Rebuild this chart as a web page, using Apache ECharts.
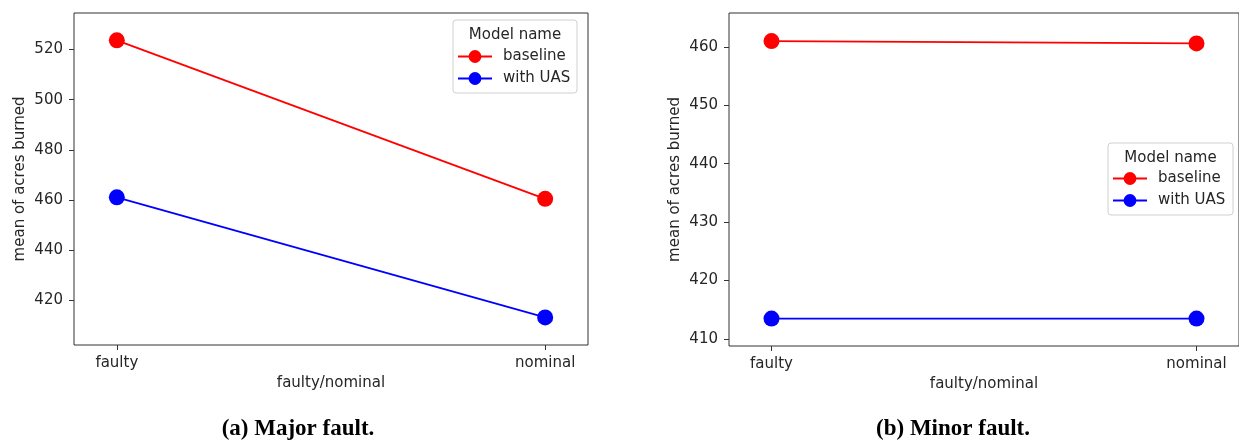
<!DOCTYPE html>
<html>
<head>
<meta charset="utf-8">
<script src="https://cdn.jsdelivr.net/npm/echarts@6/dist/echarts.min.js"></script>
<style>
html,body{margin:0;padding:0;background:#fff;}
#chart{width:1239px;height:442px;}
</style>
</head>
<body>
<div id="chart"></div>
<script>
// ---- data ----
var categories = ['faulty', 'nominal'];
var seriesNames = ['baseline', 'with UAS'];
var majorBaseline = [523.6, 460.5];
var majorUAS = [461.1, 413.3];
var minorBaseline = [461.0, 460.6];
var minorUAS = [413.5, 413.5];
var majorTicks = [420, 440, 460, 480, 500, 520];
var minorTicks = [410, 420, 430, 440, 450, 460];
var captions = ['(a) Major fault.', '(b) Minor fault.'];
var legendTitle = 'Model name';
var xName = 'faulty/nominal';
var yName = 'mean of acres burned';

var colors = {'baseline': '#ff0000', 'with UAS': '#0000ff'};
var FONT = 'DejaVu Sans';
var FS = 15;
var TXT = '#262626';

function pts(arr) { return arr.map(function (v, i) { return [i, v]; }); }

function xAxis(gridIndex) {
  return {
    type: 'value', gridIndex: gridIndex, min: -0.1, max: 1.1,
    name: xName, nameLocation: 'middle', nameGap: 31,
    nameTextStyle: {fontFamily: FONT, fontSize: FS, color: TXT},
    axisLine: {show: false, onZero: false},
    splitLine: {show: false},
    axisTick: {show: true, inside: false, length: 5, lineStyle: {color: '#333', width: 1}, customValues: [0, 1]},
    axisLabel: {show: true, margin: 11, fontFamily: FONT, fontSize: FS, color: TXT,
      customValues: [0, 1], formatter: function (v) { return categories[Math.round(v)]; }}
  };
}
function yAxis(gridIndex, min, max, ticks) {
  return {
    type: 'value', gridIndex: gridIndex, min: min, max: max,
    name: yName, nameLocation: 'middle', nameGap: 46,
    nameTextStyle: {fontFamily: FONT, fontSize: FS, color: TXT},
    axisLine: {show: false, onZero: false},
    splitLine: {show: false},
    axisTick: {show: true, inside: false, length: 5, lineStyle: {color: '#333', width: 1}, customValues: ticks},
    axisLabel: {show: true, margin: 11, fontFamily: FONT, fontSize: FS, color: TXT, customValues: ticks}
  };
}
function line(name, data, idx) {
  return {
    type: 'line', name: name, xAxisIndex: idx, yAxisIndex: idx,
    data: pts(data), symbol: 'circle', symbolSize: 16,
    lineStyle: {color: colors[name], width: 1.8},
    itemStyle: {color: colors[name]},
    animation: false, z: 3
  };
}
function legend(left, top) {
  return {
    left: left, top: top, orient: 'vertical', data: seriesNames,
    itemWidth: 34, itemHeight: 16, itemGap: 7,
    padding: 0,
    textStyle: {fontFamily: FONT, fontSize: FS, color: TXT, padding: [0, 0, 0, 6]}
  };
}
function legendBox(x, y, w, h) {
  return [{
    type: 'rect', x: x, y: y, z: 0,
    shape: {x: 0, y: 0, width: w, height: h, r: 3},
    style: {fill: 'rgba(255,255,255,0.8)', stroke: '#d0d0d0', lineWidth: 1}
  }, {
    type: 'text', x: x + w / 2, y: y + 15, z: 1,
    style: {text: legendTitle, font: FS + 'px "DejaVu Sans"', fill: TXT, textAlign: 'center', textVerticalAlign: 'middle'}
  }];
}

var chart = echarts.init(document.getElementById('chart'), null, {renderer: 'canvas'});
chart.setOption({
  backgroundColor: '#fff',
  animation: false,
  grid: [
    {left: 74, top: 13, width: 514, height: 332, show: true, borderColor: '#333', borderWidth: 1, backgroundColor: 'transparent'},
    {left: 729, top: 13, width: 512, height: 333, show: true, borderColor: '#333', borderWidth: 1, backgroundColor: 'transparent'}
  ],
  xAxis: [xAxis(0), xAxis(1)],
  yAxis: [yAxis(0, 402.3, 534.5, majorTicks), yAxis(1, 408.8, 465.8, minorTicks)],
  legend: [legend(457, 49), legend(1112, 171)],
  series: [
    line('baseline', majorBaseline, 0),
    line('with UAS', majorUAS, 0),
    line('baseline', minorBaseline, 1),
    line('with UAS', minorUAS, 1)
  ],
  graphic: [].concat(
    legendBox(453, 20, 124, 73),
    legendBox(1108, 143, 125, 72),
    [
      {type: 'text', x: 298, y: 429, style: {text: captions[0], font: 'bold 23px "Liberation Serif"', fill: '#000', textAlign: 'center', textVerticalAlign: 'middle'}},
      {type: 'text', x: 953, y: 429, style: {text: captions[1], font: 'bold 23px "Liberation Serif"', fill: '#000', textAlign: 'center', textVerticalAlign: 'middle'}}
    ]
  )
});
</script>
</body>
</html>
